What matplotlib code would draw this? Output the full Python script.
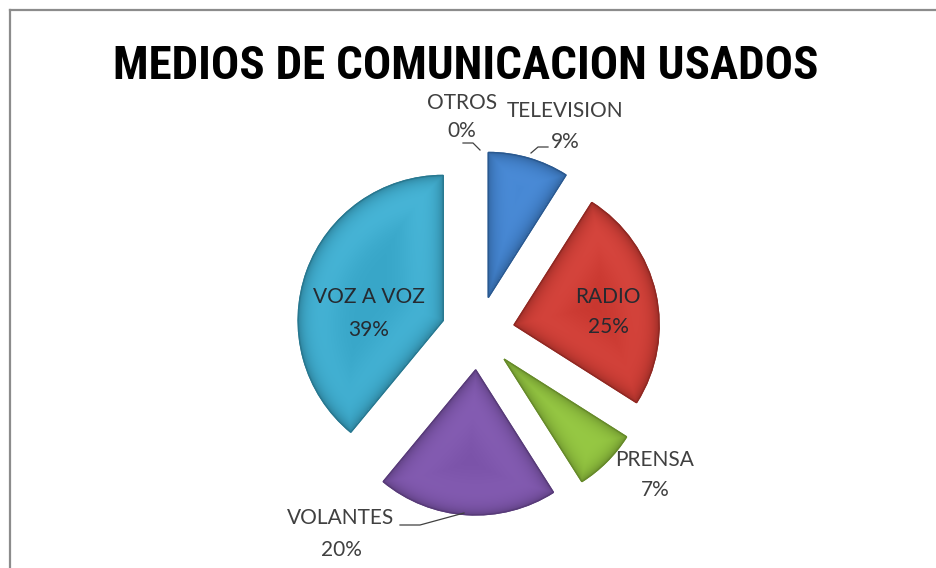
import numpy as np
import matplotlib
matplotlib.use('Agg')
import matplotlib.pyplot as plt
from matplotlib import font_manager
from matplotlib.colors import to_rgb
from matplotlib.lines import Line2D
from matplotlib.patches import Wedge

# pie data (clockwise from 12 o'clock)
categories = ['TELEVISION', 'RADIO', 'PRENSA', 'VOLANTES', 'VOZ A VOZ', 'OTROS']
shares = [9, 25, 7, 20, 39, 0]
colors = ['#3b7cc8', '#c8372f', '#8dbf3a', '#7a52a8', '#38a6c8', '#f79646']

W, H = 936, 568
CX, CY, R = 478, 333, 145          # pie centre / radius in pixels
EXPLODE = 0.255


def has_font(name):
    try:
        font_manager.findfont(font_manager.FontProperties(family=name), fallback_to_default=False)
        return True
    except Exception:
        return False


def narrow_title_font():
    # prefer a condensed bold face for the heading
    for fam in ['Liberation Sans Narrow', 'DejaVu Sans Condensed', 'Roboto Condensed',
                'Open Sans Condensed']:
        if has_font(fam):
            return dict(family=fam)
    for fam in ['DejaVu Sans', 'Noto Sans', 'Open Sans', 'Roboto']:
        try:
            f = font_manager.findfont(font_manager.FontProperties(
                family=fam, stretch='condensed', weight='bold'), fallback_to_default=False)
            if 'ondensed' in f or 'arrow' in f:
                return dict(family=fam, fontstretch='condensed')
        except Exception:
            pass
    return dict(family='Liberation Sans')


label_font = 'Lato' if has_font('Lato') else 'Liberation Sans'
title_font = narrow_title_font()


def px(x, y):
    # pixel position -> data units of the pie axes (radius = 1)
    return (x - CX) / R, (CY - y) / R


def darker(c, f):
    r, g, b = to_rgb(c)
    return (r * f, g * f, b * f)


fig = plt.figure(figsize=(W / 100, H / 100), dpi=100)
ax = fig.add_axes([0, 0, 1, 1])
ax.axis('off')

wedges, _ = ax.pie(shares, colors=colors, startangle=90, counterclock=False,
                   explode=[EXPLODE] * len(shares), radius=1,
                   wedgeprops=dict(linewidth=1.0))

# soft bevel shading inside each wedge
n = 260
for w, c in zip(wedges, colors):
    if w.theta2 - w.theta1 < 1e-6:
        w.set_visible(False)
        continue
    w.set_edgecolor(darker(c, 0.75))
    cx, cy = w.center
    xs = np.linspace(cx - 1, cx + 1, n)
    ys = np.linspace(cy - 1, cy + 1, n)
    gx, gy = np.meshgrid(xs, ys)
    rho = np.hypot(gx - cx, gy - cy)
    phi = np.degrees(np.arctan2(gy - cy, gx - cx))
    a1 = np.radians((phi - w.theta1) % 360)
    a2 = np.radians((w.theta2 - phi) % 360)
    d1 = np.where(a1 < np.pi / 2, rho * np.sin(a1), rho)
    d2 = np.where(a2 < np.pi / 2, rho * np.sin(a2), rho)
    d = np.minimum(np.minimum(d1, d2), np.clip(1 - rho, 0, None))
    base = np.array(to_rgb(c))
    shade = 1 - 0.22 * np.exp(-d / 0.04)
    light = 0.06 * np.exp(-((d - 0.15) / 0.15) ** 2) * (0.5 + 0.5 * (gy - cy + 1) / 2)
    img = np.clip(base[None, None, :] * shade[..., None] + light[..., None], 0, 1)
    im = ax.imshow(img, extent=(cx - 1, cx + 1, cy - 1, cy + 1), origin='lower',
                   interpolation='bilinear', zorder=w.get_zorder() + 0.1)
    im.set_clip_path(w)
    ax.add_patch(Wedge(w.center, 1, w.theta1, w.theta2, fill=False,
                       edgecolor=darker(c, 0.72), linewidth=1.0,
                       zorder=w.get_zorder() + 0.2))

# label blocks: x, name line y, percent line y (pixels)
label_pos = {
    'TELEVISION': (565, 111, 142),
    'RADIO': (608, 297, 327),
    'PRENSA': (655, 460, 490),
    'VOLANTES': (341, 518, 550),
    'VOZ A VOZ': (369, 297, 330),
    'OTROS': (462, 103, 131),
}
inside = {'RADIO', 'VOZ A VOZ'}
for cat, val in zip(categories, shares):
    x, y1, y2 = label_pos[cat]
    col = '#262a30' if cat in inside else '#404040'
    for txt, yy in ((cat, y1), (f'{val}%', y2)):
        ax.text(*px(x, yy), txt, ha='center', va='center', fontsize=15,
                family=label_font, color=col, zorder=10)

# leader lines
leaders = [
    [(531, 153), (538, 147), (548, 147)],
    [(463, 143), (473, 143), (480, 150)],
    [(400, 525), (420, 525), (464, 513)],
]
for pts in leaders:
    xy = np.array([px(*p) for p in pts])
    ax.plot(xy[:, 0], xy[:, 1], color='#404040', linewidth=0.9, zorder=10)

ax.set_xlim(-CX / R, (W - CX) / R)
ax.set_ylim(-(H - CY) / R, CY / R)
ax.set_aspect('equal')

title = ax.text(*px(466, 66), 'MEDIOS DE COMUNICACION USADOS', ha='center', va='center',
                fontsize=33, fontweight='bold', color='black', **title_font)
fig.canvas.draw()
tw = title.get_window_extent().width
title.set_fontsize(33 * 705 / tw)

# chart area frame (only top and left edges fall inside the image)
fig.add_artist(Line2D([9.5 / W, 1], [1 - 9.5 / H, 1 - 9.5 / H], color='#8c8c8c', linewidth=1.6))
fig.add_artist(Line2D([9.5 / W, 9.5 / W], [0, 1 - 9.5 / H], color='#8c8c8c', linewidth=1.6))

fig.savefig('out.png', dpi=100)
